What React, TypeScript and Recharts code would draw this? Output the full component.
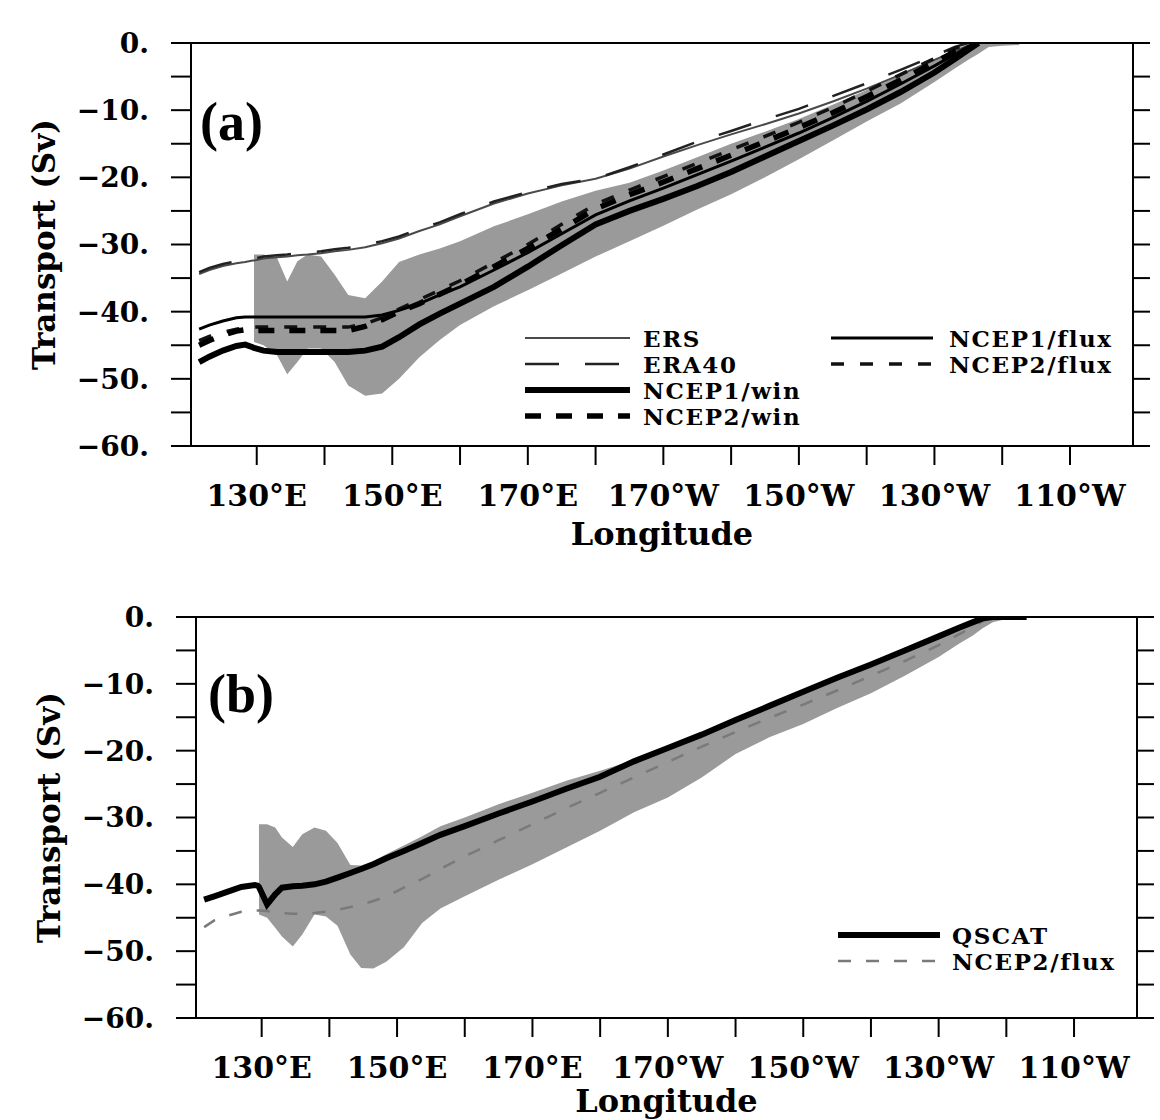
import { ComposedChart, Area, Line, XAxis, YAxis } from 'recharts'

const FONT = '"DejaVu Serif", serif'

// shared axis ticks
const xTicks = [130, 140, 150, 160, 170, 180, 190, 200, 210, 220, 230, 240, 250]
const xLabelLons = [130, 150, 170, 190, 210, 230, 250]
const xLabelTexts = ['130°E', '150°E', '170°E', '170°W', '150°W', '130°W', '110°W']
const yTicks = [0, -5, -10, -15, -20, -25, -30, -35, -40, -45, -50, -55, -60]

// panel (a)
const lonA = [121.5, 123, 125, 127, 128.3, 129.4, 129.6, 131, 133, 134.5, 136, 137.5, 139.5, 141.5, 143.5, 146, 148.5, 151, 154, 157, 160, 165, 170, 175, 180, 185, 190, 195, 200, 205, 210, 215, 220, 225, 230, 233, 235, 236.5, 238, 240, 242.5]
const bandLowA = [null, null, null, null, null, null, -44.5, -45, -46.5, -49.3, -47.5, -45.5, -45.5, -47.5, -51, -52.5, -52.2, -50, -46.8, -44.2, -42, -39.2, -36.8, -34.3, -31.8, -29.5, -27.2, -24.8, -22.5, -20, -17.3, -14.5, -11.7, -9, -5.8, -3.8, -2.5, -1.6, -0.6, -0.4, -0.3]
const bandHighA = [null, null, null, null, null, null, -31.5, -31.5, -32, -35.5, -32.5, -31.5, -31.8, -34.5, -37.5, -38, -35.5, -32.6, -31.5, -30.6, -29.5, -27.3, -25.5, -23.6, -22, -20.8, -19, -17, -15, -13.2, -11.3, -9.2, -7, -4.8, -2.5, -1, -0.2, 0, 0, 0, 0]
const ersA = [-34.4, -33.8, -33.2, -32.8, -32.6, -32.4, -32.4, -32.1, -31.9, -31.8, -31.6, -31.5, -31.3, -31, -30.8, -30.4, -29.8, -29.1, -28, -27, -25.8, -23.9, -22.4, -21.2, -20.2, -18.7, -16.9, -15.2, -13.6, -12.1, -10.5, -8.7, -6.8, -4.7, -2.5, -1.2, -0.4, 0, null, null, null]
const era40A = [-34.1, -33.5, -32.9, -32.5, -32.3, -32.1, -32.1, -31.8, -31.6, -31.5, -31.3, -31.2, -31, -30.7, -30.5, -30.1, -29.5, -28.8, -27.7, -26.7, -25.5, -23.6, -22.2, -21, -20.2, -18.5, -16.6, -14.7, -13.1, -11.4, -9.8, -7.9, -6, -4, -1.9, -0.6, 0, null, null, null, null]
const ncep1WinA = [-47.5, -46.7, -45.8, -45.1, -44.9, -45.3, -45.4, -45.8, -46, -46, -46, -46, -46, -46, -46, -45.8, -45.2, -43.8, -41.9, -40.3, -38.8, -36.3, -33.3, -30.1, -27, -25, -23.2, -21.3, -19.2, -16.9, -14.6, -12.3, -9.9, -7.3, -4.4, -2.4, -1, 0, null, null, null]
const ncep2WinA = [-45, -44.3, -43.5, -42.9, -42.7, -42.8, -42.8, -42.8, -42.8, -42.8, -42.8, -42.8, -42.8, -42.8, -42.8, -42.2, -41.2, -40, -38.8, -37.4, -36, -33.3, -30.6, -27.7, -24.7, -22.6, -20.7, -18.7, -16.7, -14.7, -12.6, -10.4, -8, -5.5, -2.9, -1.3, -0.3, 0, null, null, null]
const ncep1FluxA = [-42.6, -42, -41.4, -40.9, -40.8, -40.8, -40.8, -40.8, -40.8, -40.8, -40.8, -40.8, -40.8, -40.8, -40.8, -40.8, -40.5, -39.8, -38.8, -37.5, -36.3, -33.8, -31.2, -28.4, -25.6, -23.5, -21.6, -19.6, -17.6, -15.5, -13.4, -11.1, -8.7, -6.1, -3.4, -1.7, -0.5, 0, null, null, null]
const ncep2FluxA = [-44.3, -43.7, -43.1, -42.6, -42.4, -42.3, -42.3, -42.3, -42.3, -42.3, -42.3, -42.3, -42.3, -42.3, -42.3, -41.8, -40.9, -39.6, -38.2, -36.8, -35.4, -32.7, -30, -27, -24, -21.9, -19.9, -17.9, -15.9, -13.9, -11.8, -9.6, -7.2, -4.7, -2.3, -0.8, 0, null, null, null, null]

// panel (b)
const lonB = [121.5, 123, 125, 127, 129, 129.4, 129.6, 130.8, 132, 133, 134.6, 136, 137.8, 139.5, 141.2, 143.1, 144.7, 146.5, 148.4, 151, 153.7, 156.4, 160, 165, 170, 175, 180, 185, 190, 195, 200, 205, 210, 215, 220, 225, 230, 233, 235, 236.5, 238, 240, 243]
const bandLowB = [null, null, null, null, null, null, -44.5, -45, -46.5, -47.8, -49.3, -47.5, -44.5, -44.8, -46.2, -50.5, -52.5, -52.6, -51.6, -49.4, -45.8, -43.6, -41.8, -39.3, -37, -34.5, -32, -29.2, -27, -24, -20.5, -18, -16, -13.6, -11.4, -8.8, -6, -4, -2.8, -1.7, -0.8, -0.3, null]
const bandHighB = [null, null, null, null, null, null, -31, -31, -31.5, -33, -34.4, -32.5, -31.5, -32, -33.8, -37.1, -37.2, -36.5, -35.5, -34.2, -32.8, -31.3, -30, -28, -26.3, -24.5, -23, -21.4, -19.4, -17.4, -15.2, -13.1, -11, -8.9, -6.9, -4.8, -2.7, -1.4, -0.6, 0, 0, 0, null]
const qscatB = [-42.3, -41.8, -41.1, -40.4, -40.1, -40.2, -40.4, -43, -41.5, -40.5, -40.3, -40.2, -40, -39.6, -39, -38.3, -37.7, -37, -36.1, -35, -33.8, -32.6, -31.3, -29.4, -27.6, -25.7, -23.9, -21.6, -19.6, -17.6, -15.4, -13.3, -11.2, -9.1, -7.1, -5, -2.9, -1.6, -0.8, -0.2, 0, 0, 0]
const ncep2FluxB = [-46.4, -45.4, -44.7, -44.1, -43.9, -43.9, -43.9, -44, -44.2, -44.3, -44.4, -44.4, -44.3, -44.1, -43.8, -43.4, -43, -42.5, -41.8, -40.5, -39.2, -37.7, -35.8, -33.4, -31, -28.6, -26.3, -24, -21.7, -19.4, -17.2, -15.1, -13.1, -11, -8.8, -6.6, -4.2, -2.6, -1.5, -0.6, 0, null, null]

type LineStyle = { key: string; name: string; stroke: string; width: number; dash?: string }

const seriesA: LineStyle[] = [
  { key: 'ers', name: 'ERS', stroke: '#4a4a4a', width: 2 },
  { key: 'era40', name: 'ERA40', stroke: '#222', width: 2.5, dash: '34 26' },
  { key: 'ncep2flux', name: 'NCEP2/flux', stroke: '#111', width: 3.5, dash: '13 16' },
  { key: 'ncep1flux', name: 'NCEP1/flux', stroke: '#000', width: 3 },
  { key: 'ncep2win', name: 'NCEP2/win', stroke: '#000', width: 5.5, dash: '16 15' },
  { key: 'ncep1win', name: 'NCEP1/win', stroke: '#000', width: 6 },
]

const seriesB: LineStyle[] = [
  { key: 'ncep2flux', name: 'NCEP2/flux', stroke: '#7a7a7a', width: 2.5, dash: '13 15' },
  { key: 'qscat', name: 'QSCAT', stroke: '#000', width: 6 },
]

const bandPair = (lo: (number | null)[], hi: (number | null)[], i: number) =>
  lo[i] == null || hi[i] == null ? null : [lo[i], hi[i]]

const dataA = lonA.map((lon, i) => ({
  lon,
  band: bandPair(bandLowA, bandHighA, i),
  ers: ersA[i],
  era40: era40A[i],
  ncep1win: ncep1WinA[i],
  ncep2win: ncep2WinA[i],
  ncep1flux: ncep1FluxA[i],
  ncep2flux: ncep2FluxA[i],
}))

const dataB = lonB.map((lon, i) => ({
  lon,
  band: bandPair(bandLowB, bandHighB, i),
  qscat: qscatB[i],
  ncep2flux: ncep2FluxB[i],
}))

const fmtX = (v: number) => {
  const i = xLabelLons.indexOf(v)
  return i < 0 ? '' : xLabelTexts[i]
}
const fmtY = (v: number) => (v % 10 !== 0 ? '' : v === 0 ? '0.' : `−${Math.abs(v)}.`)

const axisStroke = { stroke: '#000', strokeWidth: 2 }
const tickFont = { fill: '#000', fontFamily: FONT, fontWeight: 700 }

interface PanelProps {
  data: Record<string, unknown>[]
  series: LineStyle[]
  margin: { top: number; right: number; bottom: number; left: number }
  titleBase: number
}

function Panel({ data, series, margin, titleBase }: PanelProps) {
  return (
    <ComposedChart width={1160} height={560} data={data} margin={margin}>
      <XAxis
        dataKey="lon"
        type="number"
        domain={[120.3, 259.3]}
        allowDataOverflow
        ticks={xTicks}
        interval={0}
        tickFormatter={fmtX}
        tickSize={19}
        tickMargin={20}
        height={60}
        axisLine={axisStroke}
        tickLine={axisStroke}
        tick={{ ...tickFont, fontSize: 30 }}
        label={(p: any) => (
          <text
            x={p.viewBox.x + p.viewBox.width / 2}
            y={p.viewBox.y + titleBase}
            textAnchor="middle"
            fontFamily={FONT}
            fontWeight={700}
            fontSize={32}
            fill="#000"
          >
            Longitude
          </text>
        )}
      />
      <XAxis
        xAxisId="top"
        orientation="top"
        type="number"
        domain={[120.3, 259.3]}
        allowDataOverflow
        ticks={xTicks}
        interval={0}
        tickFormatter={() => ''}
        tickSize={20}
        height={30}
        axisLine={axisStroke}
        tickLine={axisStroke}
      />
      <YAxis
        yAxisId="left"
        type="number"
        domain={[-60, 0]}
        allowDataOverflow
        ticks={yTicks}
        interval={0}
        tickFormatter={fmtY}
        tickSize={20}
        tickMargin={22}
        width={160}
        axisLine={axisStroke}
        tickLine={axisStroke}
        tick={{ ...tickFont, fontSize: 28 }}
        label={(p: any) => {
          const cx = p.viewBox.x + 13
          const cy = p.viewBox.y + p.viewBox.height / 2
          return (
            <text
              x={cx}
              y={cy}
              transform={`rotate(-90 ${cx} ${cy})`}
              textAnchor="middle"
              dominantBaseline="central"
              fontFamily={FONT}
              fontWeight={700}
              fontSize={31}
              fill="#000"
            >
              Transport (Sv)
            </text>
          )
        }}
      />
      <YAxis
        yAxisId="right"
        orientation="right"
        type="number"
        domain={[-60, 0]}
        allowDataOverflow
        ticks={yTicks}
        interval={0}
        tickFormatter={() => ''}
        tickSize={17}
        width={20}
        axisLine={axisStroke}
        tickLine={axisStroke}
      />
      <Area
        yAxisId="left"
        type="linear"
        dataKey="band"
        fill="#9a9a9a"
        fillOpacity={1}
        stroke="none"
        isAnimationActive={false}
      />
      {series.map((s) => (
        <Line
          key={s.key}
          yAxisId="left"
          type="linear"
          dataKey={s.key}
          stroke={s.stroke}
          strokeWidth={s.width}
          strokeDasharray={s.dash}
          dot={false}
          connectNulls
          isAnimationActive={false}
        />
      ))}
    </ComposedChart>
  )
}

type LegendItem = { key: string; x1: number; x2: number; tx: number; y: number }

const legendA: LegendItem[] = [
  { key: 'ers', x1: 525, x2: 630, tx: 643, y: 338 },
  { key: 'era40', x1: 525, x2: 630, tx: 643, y: 364 },
  { key: 'ncep1win', x1: 525, x2: 630, tx: 643, y: 390 },
  { key: 'ncep2win', x1: 525, x2: 630, tx: 643, y: 416 },
  { key: 'ncep1flux', x1: 831, x2: 933, tx: 949, y: 338 },
  { key: 'ncep2flux', x1: 831, x2: 933, tx: 949, y: 364 },
]

const legendB: LegendItem[] = [
  { key: 'qscat', x1: 838, x2: 940, tx: 952, y: 935 },
  { key: 'ncep2flux', x1: 838, x2: 940, tx: 952, y: 961 },
]

function LegendRows({ items, series }: { items: LegendItem[]; series: LineStyle[] }) {
  return (
    <>
      {items.map((it) => {
        const s = series.find((d) => d.key === it.key)!
        return (
          <g key={it.key}>
            <line
              x1={it.x1}
              x2={it.x2}
              y1={it.y}
              y2={it.y}
              stroke={s.stroke}
              strokeWidth={s.width}
              strokeDasharray={s.dash}
            />
            <text
              x={it.tx}
              y={it.y}
              dominantBaseline="central"
              fontFamily={FONT}
              fontWeight={700}
              fontSize={23}
              letterSpacing={1.6}
              fill="#000"
            >
              {s.name}
            </text>
          </g>
        )
      })}
    </>
  )
}

export default function App() {
  return (
    <div style={{ position: 'absolute', left: 0, top: 0, width: 1160, height: 1120, background: '#fff' }}>
      <div style={{ position: 'absolute', left: 0, top: 0 }}>
        <Panel data={dataA} series={seriesA} margin={{ top: 13, right: 7, bottom: 54, left: 31 }} titleBase={99} />
      </div>
      <div style={{ position: 'absolute', left: 0, top: 560 }}>
        <Panel data={dataB} series={seriesB} margin={{ top: 27, right: 3, bottom: 42, left: 36 }} titleBase={94} />
      </div>
      <svg width={1160} height={1120} style={{ position: 'absolute', left: 0, top: 0, pointerEvents: 'none' }}>
        <text x={200} y={140} fontFamily='"Liberation Serif", serif' fontWeight={700} fontSize={54} fill="#000">
          (a)
        </text>
        <text x={208} y={712} fontFamily='"Liberation Serif", serif' fontWeight={700} fontSize={54} fill="#000">
          (b)
        </text>
        <LegendRows items={legendA} series={seriesA} />
        <LegendRows items={legendB} series={seriesB} />
      </svg>
    </div>
  )
}
